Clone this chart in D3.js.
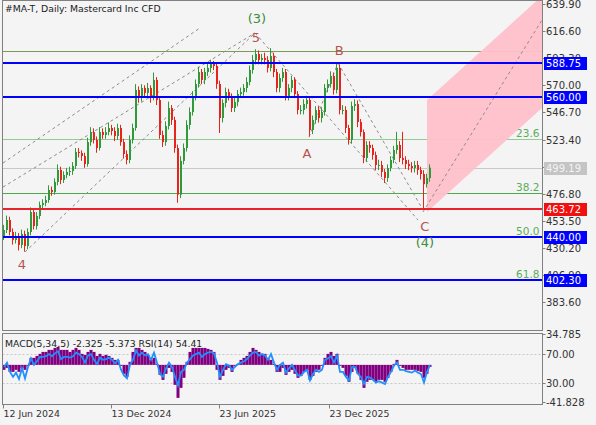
<!DOCTYPE html>
<html><head><meta charset="utf-8">
<script src="https://cdn.jsdelivr.net/npm/d3@7/dist/d3.min.js"></script>
<style>html,body{margin:0;padding:0;background:#f4f4f4;}svg{display:block}</style>
</head><body><svg id="c" width="596" height="425"></svg>
<script>
// ---------- DATA ----------
const title = "#MA-T, Daily:  Mastercard Inc CFD";
const firstOpen = 440.0;
const closes = [
445.6,454.2,443.9,437.0,440.4,432.7,442.2,431.8,443.9,461.0,
449.0,457.6,467.1,468.8,471.4,480.0,478.2,486.9,497.2,488.6,
492.9,495.5,496.3,500.6,512.7,511.8,509.2,502.3,521.2,529.8,
523.0,516.1,529.8,527.3,529.8,533.3,530.7,526.4,533.3,521.2,
510.9,505.8,523.0,533.3,566.0,559.1,567.7,563.4,567.7,559.1,
574.6,557.4,527.3,521.2,535.0,550.5,540.2,516.1,476.0,505.0,
516.1,535.9,547.0,560.8,571.1,581.4,574.6,581.4,584.9,588.3,
586.6,571.1,541.9,554.8,564.2,560.8,550.5,555.6,562.5,564.2,
567.7,572.8,583.2,591.8,596.9,591.8,593.5,591.8,584.9,595.2,
581.4,567.7,576.3,581.4,560.8,567.7,574.6,562.5,548.8,548.8,
553.9,557.4,531.6,540.2,548.8,541.9,547.0,567.7,571.1,578.0,
566.0,584.9,548.8,548.8,533.3,523.0,552.2,553.9,538.4,529.8,
507.5,518.7,516.1,510.1,501.5,501.5,495.5,490.3,498.9,505.8,
514.4,518.7,507.5,505.8,502.3,500.6,498.9,501.5,497.2,493.7,
485.0,490.3,499.2];
const highs = [
450,458,457,447,444,443,446,445,447,465,
463,461,470,472,475,484,483,490,502,500,
496,499,500,504,516,516,514,512,525,534,
533,526,534,533,534,538,536,534,537,536,
524,514,527,537,571,569,571,570,572,570,
581,577,560,531,539,556,553,543,519,509,
520,540,551,565,575,586,584,585,589,592,
591,589,574,558,568,567,563,559,566,568,
571,577,587,596,601,600,597,598,595,602,
598,584,580,585,584,571,578,577,565,553,
558,561,560,544,552,552,551,571,575,582,
581,590,588,553,552,536,556,558,557,541,
532,522,522,519,513,506,505,498,502,509,
518,530,522,530,509,506,504,505,505,500,
497,494,502];
const lows = [
437,443,441,433,434,428,430,427,429,441,
446,446,455,464,466,469,475,476,484,485,
486,490,492,493,498,508,505,499,500,518,
520,512,514,524,524,527,527,522,523,518,
507,502,503,520,531,555,556,560,560,555,
557,553,524,517,518,532,536,512,469,473,
502,513,532,544,557,568,571,571,578,581,
583,567,529,538,551,557,547,547,552,559,
561,564,570,580,588,588,588,588,581,582,
577,564,564,573,557,557,564,559,545,545,
545,550,526,528,537,538,538,544,564,568,
562,563,545,545,529,519,520,548,534,526,
503,504,512,506,497,497,491,486,487,496,
503,511,504,502,498,497,495,495,493,489,
463.5,482,487];
const macd = [
-5.6,-3.4,-7.9,-7.9,-5.6,-7.9,-3.4,-5.6,-1.1,7.9,
7.9,10.1,12.4,14.6,14.6,16.9,16.9,19.1,20.3,16.9,
16.9,16.9,14.6,16.9,19.1,16.9,12.4,11.3,14.6,16.9,
14.6,10.1,12.4,10.1,11.3,10.1,7.9,5.6,5.6,-1.1,
-10.1,-13.5,3.4,14.6,19.1,19.1,16.9,14.6,11.3,5.6,
7.9,1.1,-11.3,-16.9,-10.1,-3.4,-7.9,-22.5,-37.2,-25.9,
-14.6,3.4,14.6,19.1,19.1,19.1,19.1,19.1,18.0,16.9,
14.6,-5.6,-16.9,-12.4,-5.6,-3.4,-7.9,-1.1,1.1,5.6,
7.9,10.1,14.6,19.1,16.9,14.6,12.4,12.4,7.9,5.6,
1.1,-7.9,-7.9,-3.4,-11.3,-7.9,-5.6,-10.1,-14.6,-12.4,
-7.9,-5.6,-16.9,-12.4,-7.9,-5.6,-1.1,7.9,12.4,14.6,
10.1,12.4,-1.1,-3.4,-12.4,-19.1,-7.9,-3.4,-10.1,-16.9,
-25.9,-19.1,-16.9,-16.9,-19.1,-16.9,-16.9,-19.1,-14.6,-7.9,
1.1,5.6,-1.1,-3.4,-5.6,-5.6,-5.6,-5.6,-6.8,-7.9,
-14.6,-10.1,-2.3];
const rsi = [
52,58,45,38,44,35,50,36,52,
64,55,60,66,66,67,70,67,71,74,
63,66,66,65,67,72,70,66,58,
68,70,62,56,65,62,63,65,62,57,62,
48,40,36,55,62,
75,68,72,68,70,62,72,
58,42,38,50,58,52,38,26,
45,48,58,63,68,70,72,66,70,72,73,71,
58,38,48,56,54,
48,52,56,58,60,63,68,
72,73,68,70,68,62,70,58,
48,55,58,44,50,55,47,40,40,45,48,
33,42,48,45,48,
62,64,67,58,68,
45,45,38,33,52,52,42,38,
28,38,37,34,30,32,30,28,38,
45,54,58,48,48,
46,45,44,47,44,42,30,45,54.4];
const priceTicks = [639.90,616.60,593.30,570.00,546.70,523.40,500.10,476.80,453.50,430.20,406.90,383.60];
const blueLevels = [588.75,560.00,440.00,402.30];
const redLevel = 463.72;
const lastPrice = 499.19;
const fibNames = ["0.0","23.6","38.2","50.0","61.8"];
const fibPrices = [599.1,524.1,477.6,440.0,402.6];
const dateTickIdx = [-0.33,35.67,71.67,108.33];
const dateTickLabels = ["12 Jun 2024","13 Dec 2024","23 Jun 2025","23 Dec 2025"];
const indTicks = [34.785,-41.828];
const rsiLevels = [70,30];
const indLabel = "MACD(5,34,5) -2.325 -5.373 RSI(14) 54.41";
// wave annotations (index, price)
const waveText = ["(3)","5","B","A","C","(4)","4"];
const waveIdx  = [84.3,84.0,111.7,101.0,140.3,140.3,6.0];
const wavePrice= [627.9,611.5,600.3,511.8,449.0,435.3,416.3];
const waveGreen= [true,false,false,false,false,true,false];
// dashed guide lines [i1,p1,i2,p2]
const guideLines = [
 [-0.33,503.2,65.33,619.3],
 [-0.33,482.5,83.67,615.0],
 [7.0,426.7,83.67,615.0],
 [83.67,615.0,138.0,454.2],
 [101.67,525.5,111.33,589.2],
 [111.33,589.2,139.67,462.8],
 [139.67,461.1,179.33,626.1]];
const channelIdx = [141,179.33,179.33,141];
const channelPrice = [557.4,646.8,550.5,461.1];

// ---------- LAYOUT ----------
const L=2.5, R=542.5, T=0.5, B=330.5, IT=333.5, IB=404.5;
const FONT="'DejaVu Sans', Tahoma, sans-serif";
const svg=d3.select("#c");
svg.append("rect").attr("width",596).attr("height",425).attr("fill","#f4f4f4");
const x=d3.scaleLinear().domain([0,142]).range([4,430]);
const y=d3.scaleLinear().domain([383.6,639.9]).range([302.1,4]);
const ym=d3.scaleLinear().domain([-41.828,34.785]).range([402,334]);
const yr=d3.scaleLinear().domain([0,100]).range([404,332.7]);

const defs=svg.append("defs");
defs.append("clipPath").attr("id","mc").append("rect").attr("x",L+0.5).attr("y",T+0.5).attr("width",R-L-1).attr("height",B-T-1);
defs.append("clipPath").attr("id","ic").append("rect").attr("x",L+0.5).attr("y",IT+0.5).attr("width",R-L-1).attr("height",IB-IT-1);
const main=svg.append("g").attr("clip-path","url(#mc)");

// fib lines
const fibCol=["#7e9a55","#92cc92","#4caa4c","#4caa4c","#4caa4c"];
fibPrices.forEach((p,k)=>{
  const yy=Math.round(y(p))+0.5;
  main.append("line").attr("x1",L).attr("x2",R).attr("y1",yy).attr("y2",yy).attr("stroke",fibCol[k]).attr("stroke-width",1);
  main.append("text").attr("x",R-3).attr("y",yy-3).attr("text-anchor","end").attr("font-family",FONT).attr("font-size",10.5).attr("fill",k==0?"#a0a070":"#5aad5a").text(fibNames[k]);
});
// last price line
{const yy=Math.round(y(lastPrice))+0.5;
 main.append("line").attr("x1",L).attr("x2",R).attr("y1",yy).attr("y2",yy).attr("stroke","#c8c8c8");}
// pink channel
main.append("polygon").attr("points",channelIdx.map((c,k)=>x(c)+","+y(channelPrice[k])).join(" ")).attr("fill","#ffc0cb").attr("opacity",0.95);
// guide lines
guideLines.forEach(g=>{
  main.append("line").attr("x1",x(g[0])).attr("y1",y(g[1])).attr("x2",x(g[2])).attr("y2",y(g[3])).attr("stroke","#8c8c8c").attr("stroke-width",1).attr("stroke-dasharray","3,3");
});
// candles
const cg=main.append("g");
closes.forEach((c,i)=>{
  const o=i?closes[i-1]:firstOpen;
  const col=c>=o?"#2e9a3a":"#e8231b";
  const cx=Math.round(x(i));
  cg.append("line").attr("x1",cx-0.5).attr("x2",cx-0.5).attr("y1",y(highs[i])).attr("y2",y(lows[i])).attr("stroke",col).attr("stroke-width",1);
  const y1=y(Math.max(o,c)), y2=y(Math.min(o,c));
  cg.append("rect").attr("x",cx-1).attr("width",2).attr("y",y1).attr("height",Math.max(1,y2-y1)).attr("fill",col);
});
// blue & red levels
blueLevels.forEach(p=>{
  const yy=Math.round(y(p));
  main.append("line").attr("x1",L).attr("x2",R).attr("y1",yy).attr("y2",yy).attr("stroke","#0000ff").attr("stroke-width",2);
});
{const yy=Math.round(y(redLevel));
 main.append("line").attr("x1",L).attr("x2",R).attr("y1",yy).attr("y2",yy).attr("stroke","#e8232b").attr("stroke-width",2);}
// wave labels
waveText.forEach((t,k)=>{
  main.append("text").attr("x",x(waveIdx[k])).attr("y",y(wavePrice[k])).attr("dy","0.35em").attr("text-anchor","middle")
   .attr("font-family",FONT).attr("font-size",13).attr("fill",waveGreen[k]?"#3d8c3d":"#b5524e").text(t);
});

// frames
svg.append("rect").attr("x",L).attr("y",T).attr("width",R-L).attr("height",B-T).attr("fill","none").attr("stroke","#808080");
svg.append("rect").attr("x",L).attr("y",IT).attr("width",R-L).attr("height",IB-IT).attr("fill","none").attr("stroke","#808080");

// title
svg.append("text").attr("x",5).attr("y",12).attr("font-family",FONT).attr("font-size",9.3).attr("fill","#222").text(title);

// price axis
const ax=svg.append("g");
priceTicks.forEach(p=>{
  const yy=Math.round(y(p))+0.5;
  ax.append("line").attr("x1",R).attr("x2",R+3).attr("y1",yy).attr("y2",yy).attr("stroke","#808080");
  ax.append("text").attr("x",R+3.5).attr("y",yy).attr("dy","0.36em").attr("font-family",FONT).attr("font-size",10).attr("fill","#333").text(p.toFixed(2));
});
function tag(p,bg,fg){
  const yy=Math.round(y(p));
  ax.append("rect").attr("x",R+1.5).attr("y",yy-6).attr("width",43).attr("height",13).attr("fill",bg);
  ax.append("text").attr("x",R+3.5).attr("y",yy+0.5).attr("dy","0.36em").attr("font-family",FONT).attr("font-size",10).attr("fill",fg).text(p.toFixed(2));
}
blueLevels.forEach(p=>tag(p,"#0000ff","#ffffff"));
tag(redLevel,"#f01010","#ffffff");
tag(lastPrice,"#c4c4c4","#f4f4f4");

// indicator panel
const ig=svg.append("g").attr("clip-path","url(#ic)");
rsiLevels.forEach(v=>{
  const yy=Math.round(yr(v))+0.5;
  ig.append("line").attr("x1",L).attr("x2",R).attr("y1",yy).attr("y2",yy).attr("stroke","#c8c8c8").attr("stroke-dasharray","2,2");
});
macd.forEach((v,i)=>{
  const cx=Math.round(x(i));
  ig.append("rect").attr("x",cx-1.5).attr("width",3).attr("y",Math.min(ym(0),ym(v))).attr("height",Math.abs(ym(v)-ym(0))).attr("fill","#800080");
});
ig.append("path").datum(rsi).attr("d",d3.line().x((d,i)=>x(i)).y(d=>yr(d))).attr("fill","none").attr("stroke","#1e90ff").attr("stroke-width",1.8);
svg.append("text").attr("x",5).attr("y",347).attr("font-family",FONT).attr("font-size",9.3).attr("fill","#222").text(indLabel);
indTicks.forEach(v=>{
  const yy=Math.round(ym(v))+0.5;
  ax.append("line").attr("x1",R).attr("x2",R+3).attr("y1",yy).attr("y2",yy).attr("stroke","#808080");
  ax.append("text").attr("x",R+3.5).attr("y",yy).attr("dy","0.36em").attr("font-family",FONT).attr("font-size",10).attr("fill","#333").text(v.toFixed(3));
});
rsiLevels.forEach(v=>{
  const yy=Math.round(yr(v))+0.5;
  ax.append("line").attr("x1",R).attr("x2",R+3).attr("y1",yy).attr("y2",yy).attr("stroke","#808080");
  ax.append("text").attr("x",R+3.5).attr("y",yy).attr("dy","0.36em").attr("font-family",FONT).attr("font-size",10).attr("fill","#333").text(v.toFixed(2));
});
// date axis
dateTickIdx.forEach((d,k)=>{
  const xx=Math.round(x(d))+0.5;
  svg.append("line").attr("x1",xx).attr("x2",xx).attr("y1",IB).attr("y2",IB+4).attr("stroke","#808080");
  svg.append("text").attr("x",xx).attr("y",417).attr("font-family",FONT).attr("font-size",9.4).attr("fill","#333").text(dateTickLabels[k]);
});
</script></body></html>
